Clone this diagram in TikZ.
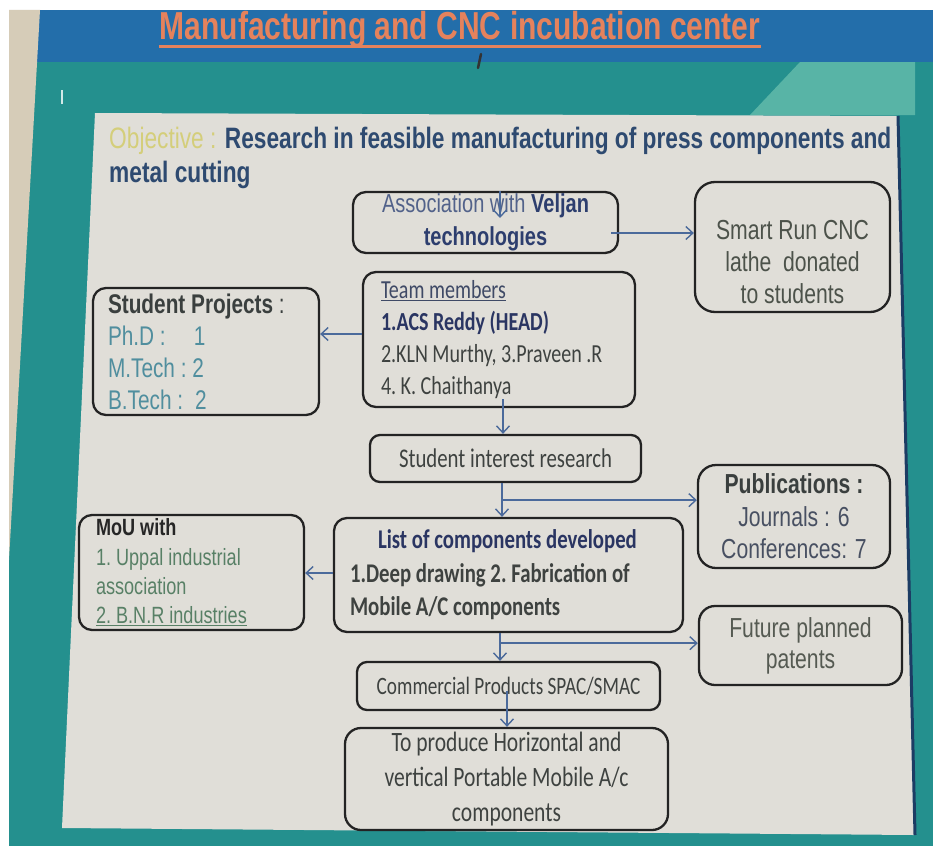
\documentclass[tikz,border=0pt]{standalone}
\usepackage{fontspec}
\setmainfont[FakeStretch=0.77]{Carlito}
\newfontfamily\arialfont[FakeStretch=0.77]{Liberation Sans}
\usepackage{xcolor}
\usetikzlibrary{arrows.meta}
\definecolor{titleorange}{RGB}{229,130,92}
\definecolor{objyellow}{RGB}{212,206,122}
\definecolor{objblue}{RGB}{46,74,112}
\definecolor{assocblue}{RGB}{82,98,138}
\definecolor{veljanblue}{RGB}{45,62,110}
\definecolor{darktext}{RGB}{62,66,64}
\definecolor{headgray}{RGB}{58,63,62}
\definecolor{cncgray}{RGB}{76,82,74}
\definecolor{tealtext}{RGB}{80,142,158}
\definecolor{slatetext}{RGB}{63,74,102}
\definecolor{navytext}{RGB}{42,53,98}
\definecolor{moutext}{RGB}{88,128,102}
\definecolor{pubtext}{RGB}{72,80,98}
\definecolor{patentgray}{RGB}{85,90,82}
\definecolor{boxline}{RGB}{35,35,35}
\definecolor{arrowblue}{RGB}{75,106,155}
\definecolor{panelgray}{RGB}{224,222,216}
\definecolor{posterteal}{RGB}{36,144,142}
\definecolor{posterblue}{RGB}{35,110,170}
\definecolor{lightteal}{RGB}{88,180,166}
\definecolor{wallbeige}{RGB}{214,204,184}
\definecolor{edgenavy}{RGB}{28,60,100}

\begin{document}
\begin{tikzpicture}[
  x=1pt, y=-1pt,
  box/.style={draw=boxline, line width=2.3pt, rounded corners=13pt, align=center, inner xsep=6pt, inner ysep=0pt},
  lbox/.style={box, align=left, execute at begin node={\spaceskip=0pt\xspaceskip=0pt\frenchspacing}},
  arrow/.style={-{Straight Barb[length=7pt, width=13pt]}, line width=1.4pt, color=arrowblue}
]
  \useasboundingbox (0,0) rectangle (933,851);

  % poster behind the panel
  \fill[white] (0,0) rectangle (933,851);
  \fill[posterteal] (9,10) rectangle (933,846);
  \fill[posterblue] (9,10) rectangle (933,62);
  \fill[wallbeige] (9,10) -- (40,10) -- (9,560) -- cycle;
  \fill[lightteal] (800,62) -- (915,62) -- (915,115) -- (750,115) -- cycle;
  \fill[panelgray] (95,113) -- (897,116) -- (914,835) -- (62,828) -- cycle;
  \draw[edgenavy, line width=3pt] (898,116) -- (915,835);
  \draw[black!80, line width=2.5pt, line cap=round] (478,68) -- (481,54);
  \draw[white!80!posterteal, line width=1.5pt] (62,90) -- (62,104);

  \node[anchor=base, inner sep=0pt, text=titleorange, font=\arialfont\bfseries\fontsize{39}{42}\selectfont] (title) at (460,40) {Manufacturing and CNC incubation center};
  \draw[titleorange, line width=3pt] ([yshift=-6.5pt]title.base west) -- ([yshift=-6.5pt]title.base east);

  \node[anchor=base west, inner sep=0pt, align=left, text=objblue, font=\arialfont\bfseries\fontsize{29.5}{34}\selectfont] (objective) at (109,182) {\textcolor{objyellow}{\mdseries Objective :} Research in feasible manufacturing of press components and\\metal cutting};

  \node[box, minimum width=265pt, minimum height=61pt, font=\arialfont\fontsize{26}{33}\selectfont] (veljan) at (485.5,222.5) {\textcolor{assocblue}{Association with} \textcolor{veljanblue}{\bfseries Veljan}\\\textcolor{veljanblue}{\bfseries technologies}};
  \node[box, rounded corners=20pt, minimum width=195pt, minimum height=130pt, text=cncgray, font=\arialfont\fontsize{27.5}{32}\selectfont] (lathe) at (792.5,247) {\rule{0pt}{49pt}Smart Run CNC\\lathe~ donated\\to students};
  \node[lbox, text width=236pt, inner xsep=18pt, minimum height=135pt, text=darktext, font=\fontsize{26}{32}\selectfont] (team) at (499,339.5) {\textcolor{slatetext}{\underline{Team members}}\\\textcolor{navytext}{\bfseries 1.ACS Reddy (HEAD)}\\2.KLN Murthy, 3.Praveen .R\\4. K. Chaithanya};
  \node[lbox, text width=196pt, inner xsep=15pt, minimum height=127pt, text=tealtext, font=\arialfont\fontsize{27}{32}\selectfont] (projects) at (206,351.5) {\textcolor{headgray}{\bfseries Student Projects} \textcolor{headgray}{:}\\Ph.D :\hspace{28pt}1\\M.Tech : 2\\B.Tech :\hspace{12pt}2};
  \node[box, minimum width=271pt, minimum height=47pt, rounded corners=10pt, text=darktext, font=\fontsize{27}{32}\selectfont] (interest) at (505.5,458.5) {Student interest research};
  \node[box, rounded corners=18pt, minimum width=192pt, minimum height=103pt, text=pubtext, font=\arialfont\fontsize{27.5}{32.5}\selectfont] (pubs) at (794,516.5) {\textcolor{headgray}{\bfseries Publications :}\\Journals : 6\\Conferences: 7};
  \node[lbox, text width=317pt, inner xsep=16pt, minimum height=114pt, text=darktext, font=\bfseries\fontsize{27}{33.5}\selectfont] (comps) at (508.5,575) {\hspace*{28pt}\textcolor{navytext}{List of components developed}\\1.Deep drawing 2. Fabrication of\\Mobile A/C components};
  \node[lbox, text width=191pt, inner xsep=17pt, minimum height=115pt, text=moutext, font=\arialfont\fontsize{23.5}{29.3}\selectfont] (mou) at (191.5,572.5) {\textcolor{black!85}{\bfseries MoU with}\\1. Uppal industrial\\association\\\underline{2. B.N.R industries}};
  \node[box, rounded corners=16pt, minimum width=203pt, minimum height=79pt, text=patentgray, font=\arialfont\fontsize{27.5}{31}\selectfont] (patents) at (800.5,645.5) {Future planned\\patents};
  \node[box, minimum width=303pt, minimum height=48pt, rounded corners=10pt, text=darktext, font=\fontsize{25}{30}\selectfont] (commercial) at (508.5,686) {Commercial Products SPAC/SMAC};
  \node[box, minimum width=323pt, minimum height=102pt, rounded corners=16pt, text=darktext, font=\fontsize{28}{35}\selectfont] (produce) at (506.5,779) {To produce Horizontal and\\vertical Portable Mobile A/c\\components};

  \coordinate (vtip) at (500,218);
  \coordinate (ab) at ([xshift=-8pt,yshift=-10.5pt]veljan.east);
  \coordinate (tp) at ([yshift=5.5pt]team.west);
  \coordinate (ti) at ([xshift=4pt,yshift=9pt]team.south);
  \coordinate (ic) at ([xshift=-3.5pt]interest.south);
  \coordinate (ip) at ([yshift=-17pt]ic);
  \coordinate (cm) at ([yshift=2pt]comps.west);
  \coordinate (cc) at ([xshift=-8.5pt]comps.south);
  \coordinate (cp) at ([yshift=-10pt]cc);
  \coordinate (cpr) at ([xshift=-1.5pt,yshift=20pt]commercial.south);

  \draw[arrow] (vtip |- veljan.north) -- (vtip);
  \draw[arrow] (ab) -- (ab -| lathe.west);
  \draw[arrow] (tp) -- (tp -| projects.east);
  \draw[arrow] (ti) -- (ti |- interest.north);
  \draw[arrow] (ic) -- (ic |- comps.north);
  \draw[arrow] (ip) -- (ip -| pubs.west);
  \draw[arrow] (cm) -- (cm -| mou.east);
  \draw[arrow] (cc) -- (cc |- commercial.north);
  \draw[arrow] (cp) -- (cp -| patents.west);
  \draw[arrow] (cpr) -- (cpr |- produce.north);

\end{tikzpicture}
\end{document}
